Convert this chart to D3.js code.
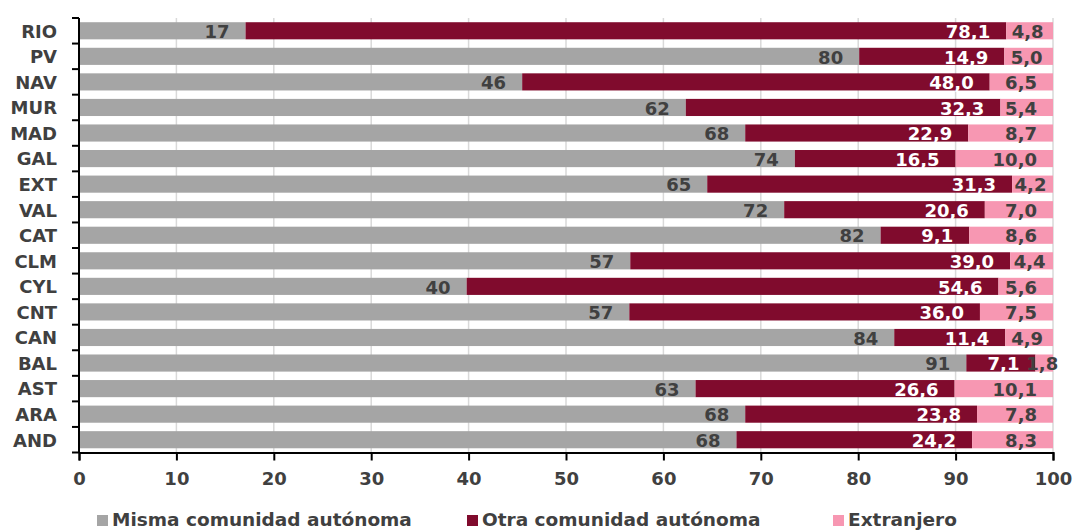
<!DOCTYPE html>
<html>
<head>
<meta charset="utf-8">
<script src="https://cdn.jsdelivr.net/npm/d3@7/dist/d3.min.js"></script>
<style>
  html, body { margin: 0; padding: 0; background: #fff; }
  svg { display: block; }
  text { font-family: "DejaVu Sans", sans-serif; font-weight: bold; fill: #404040; }
</style>
</head>
<body>
<svg id="chart" width="1075" height="531"></svg>
<script>
const categories = ["RIO","PV","NAV","MUR","MAD","GAL","EXT","VAL","CAT","CLM","CYL","CNT","CAN","BAL","AST","ARA","AND"];
const misma = [17.1, 80.1, 45.5, 62.3, 68.4, 73.5, 64.5, 72.4, 82.3, 56.6, 39.8, 56.5, 83.7, 91.1, 63.3, 68.4, 67.5];
const otra = [78.1, 14.9, 48.0, 32.3, 22.9, 16.5, 31.3, 20.6, 9.1, 39.0, 54.6, 36.0, 11.4, 7.1, 26.6, 23.8, 24.2];
const extranjero = [4.8, 5.0, 6.5, 5.4, 8.7, 10.0, 4.2, 7.0, 8.6, 4.4, 5.6, 7.5, 4.9, 1.8, 10.1, 7.8, 8.3];
const seriesNames = ["Misma comunidad autónoma", "Otra comunidad autónoma", "Extranjero"];
const xTicks = [0,10,20,30,40,50,60,70,80,90,100];

const colors = ["#A5A5A5", "#800B2D", "#F797B2"];
const labelColors = ["#404040", "#FFFFFF", "#404040"];

const svg = d3.select("#chart");
const margin = {left: 79, right: 1075 - 1053, top: 18, bottom: 531 - 452.5};

const x = d3.scaleLinear().domain([0, 100]).range([margin.left, 1053]);
const y = d3.scaleBand().domain(categories).range([margin.top, 452.5]).paddingInner(0.33).paddingOuter(0.165);

// gridlines
svg.append("g").selectAll("line").data(xTicks.slice(1)).join("line")
  .attr("x1", d => x(d)).attr("x2", d => x(d))
  .attr("y1", margin.top).attr("y2", 452.5)
  .attr("stroke", "#D9D9D9").attr("stroke-width", 1.5);

const data = categories.map((c, i) => ({cat: c, vals: [misma[i], otra[i], extranjero[i]]}));
const stacked = d3.stack().keys([0,1,2]).value((d, k) => d.vals[k])(data);

const fmtDec = v => v.toFixed(1).replace(".", ",");
const fmtInt = v => v.toFixed(0);

stacked.forEach((layer, k) => {
  svg.append("g").selectAll("rect").data(layer).join("rect")
    .attr("x", d => x(d[0]))
    .attr("width", d => x(d[1]) - x(d[0]))
    .attr("y", d => y(d.data.cat))
    .attr("height", y.bandwidth())
    .attr("fill", colors[k]);
});

// labels
stacked.forEach((layer, k) => {
  const g = svg.append("g");
  layer.forEach(d => {
    const v = d.data.vals[k];
    const txt = k === 0 ? fmtInt(v) : fmtDec(v);
    const t = g.append("text")
      .attr("y", y(d.data.cat) + y.bandwidth() / 2)
      .attr("dy", "0.4em")
      .attr("font-size", 18)
      .style("fill", labelColors[k])
      .text(txt);
    const w = t.node().getComputedTextLength();
    const segW = x(d[1]) - x(d[0]);
    if (w + 20 > segW) {
      t.attr("x", (x(d[0]) + x(d[1])) / 2 - 2).attr("text-anchor", "middle");
    } else {
      t.attr("x", x(d[1]) - 16).attr("text-anchor", "end");
    }
  });
});

// y axis
const yAxis = svg.append("g").attr("transform", `translate(${margin.left},0)`);
yAxis.append("line").attr("x1", 0).attr("x2", 0).attr("y1", margin.top).attr("y2", 452.5)
  .attr("stroke", "#000").attr("stroke-width", 2);
const bounds = categories.map(c => y(c) - y.step() * y.paddingInner() / 2).concat([452.5]);
bounds[0] = margin.top;
yAxis.selectAll("line.tk").data(bounds).join("line").attr("class", "tk")
  .attr("x1", -7).attr("x2", 0).attr("y1", d => d).attr("y2", d => d)
  .attr("stroke", "#000").attr("stroke-width", 2);
yAxis.selectAll("text").data(categories).join("text")
  .attr("x", -22).attr("y", d => y(d) + y.bandwidth() / 2).attr("dy", "0.38em")
  .attr("text-anchor", "end").attr("font-size", 18).text(d => d);

// x axis
const xAxis = d3.axisBottom(x).tickValues(xTicks).tickSize(8).tickPadding(12).tickFormat(d3.format("d"));
const gx = svg.append("g").attr("transform", `translate(0,452.5)`).call(xAxis);
gx.select(".domain").attr("stroke", "#000").attr("stroke-width", 2);
gx.selectAll(".tick line").attr("stroke", "#000").attr("stroke-width", 2);
gx.selectAll(".tick text").attr("font-size", 18).style("font-family", '"DejaVu Sans", sans-serif').style("font-weight", "bold").style("fill", "#404040");

// legend
const legendX = [97, 467, 833];
const lg = svg.append("g");
seriesNames.forEach((n, i) => {
  lg.append("rect").attr("x", legendX[i]).attr("y", 515).attr("width", 11).attr("height", 11).attr("fill", colors[i]);
  lg.append("text").attr("x", legendX[i] + 15).attr("y", 526).attr("font-size", 18.5).text(n);
});
</script>
</body>
</html>
